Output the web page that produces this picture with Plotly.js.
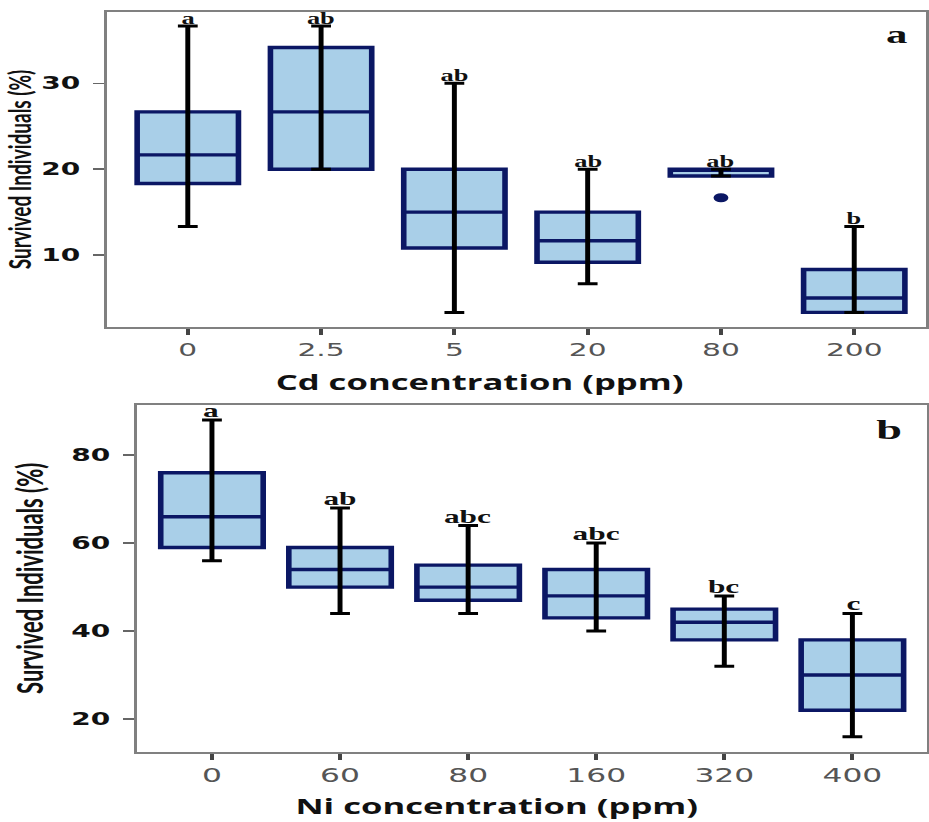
<!DOCTYPE html>
<html>
<head>
<meta charset="utf-8">
<script src="https://cdn.plot.ly/plotly-3.0.1.min.js"></script>
<style>
  html, body { margin: 0; padding: 0; background: #ffffff; overflow: hidden; }
  #chart { width: 563px; height: 822px; transform: scaleX(1.6501); transform-origin: 0 0; }
</style>
</head>
<body>
<div id="chart"></div>
<script>
// ---------- Panel a: Cd ----------
var cdLabels  = ['0', '2.5', '5', '20', '80', '200'];
var cdMin     = [13.33, 20.00, 3.33, 6.67, 19.20, 3.33];
var cdQ1      = [18.33, 20.00, 10.83, 9.17, 19.20, 3.33];
var cdMedian  = [21.67, 26.67, 15.00, 11.67, 20.00, 5.00];
var cdQ3      = [26.67, 34.17, 20.00, 15.00, 20.00, 8.33];
var cdMax     = [36.67, 36.67, 30.00, 20.00, 20.00, 13.33];
var cdLetters = ['a', 'ab', 'ab', 'ab', 'ab', 'b'];
var cdOutlierX = ['80'];
var cdOutlierY = [16.67];

// ---------- Panel b: Ni ----------
var niLabels  = ['0', '60', '80', '160', '320', '400'];
var niMin     = [56, 44, 44, 40, 32, 16];
var niQ1      = [59, 50, 47, 43, 38, 22];
var niMedian  = [66, 54, 50, 48, 42, 30];
var niQ3      = [76, 59, 55, 54, 45, 38];
var niMax     = [88, 68, 64, 60, 48, 44];
var niLetters = ['a', 'ab', 'abc', 'abc', 'bc', 'c'];

var panelLabels = ['a', 'b'];
var yTitle = 'Survived Individuals (%)';
var xTitles = ['Cd concentration (ppm)', 'Ni concentration (ppm)'];

var NAVY = '#0b1764';
var FILL = '#a9cfe8';

function boxTrace(x, q1, med, q3, w, xa, ya) {
  return {
    type: 'box', x: x, q1: q1, median: med, q3: q3,
    lowerfence: q1, upperfence: q3,
    width: w, whiskerwidth: 0, boxpoints: false,
    fillcolor: FILL, line: { color: NAVY, width: 3.4 },
    xaxis: xa, yaxis: ya, showlegend: false, hoverinfo: 'skip'
  };
}
function whiskerTrace(x, mn, mx, xa, ya) {
  return {
    type: 'scatter', mode: 'markers', x: x, y: mx,
    marker: { size: 1, color: 'rgba(0,0,0,0)' },
    error_y: {
      type: 'data', symmetric: false,
      array: mx.map(function () { return 0; }),
      arrayminus: mx.map(function (v, i) { return v - mn[i]; }),
      color: '#000000', thickness: 3, width: 6
    },
    xaxis: xa, yaxis: ya, showlegend: false, hoverinfo: 'skip'
  };
}

var data = [
  boxTrace(cdLabels, cdQ1, cdMedian, cdQ3, 0.76, 'x', 'y'),
  boxTrace(niLabels, niQ1, niMedian, niQ3, 0.80, 'x2', 'y2'),
  whiskerTrace(cdLabels, cdMin, cdMax, 'x', 'y'),
  whiskerTrace(niLabels, niMin, niMax, 'x2', 'y2'),
  {
    type: 'scatter', mode: 'markers', x: cdOutlierX, y: cdOutlierY,
    marker: { color: NAVY, size: 9 },
    xaxis: 'x', yaxis: 'y', showlegend: false, hoverinfo: 'skip'
  }
];

var annotations = [];
function addLetters(labels, mx, letters, xr, yr, size) {
  for (var i = 0; i < labels.length; i++) {
    annotations.push({
      x: i, y: mx[i], xref: xr, yref: yr,   // category index of labels[i]
      text: '<b>' + letters[i] + '</b>', showarrow: false,
      yanchor: 'bottom', yshift: -3,
      font: { family: 'Liberation Serif', size: size, color: '#111111' }
    });
  }
}
addLetters(cdLabels, cdMax, cdLetters, 'x', 'y', 16);
addLetters(niLabels, niMax, niLetters, 'x2', 'y2', 19);

annotations.push({
  xref: 'paper', yref: 'paper', x: 0.9806, y: 0.9586, xanchor: 'right', yanchor: 'middle',
  text: '<b>' + panelLabels[0] + '</b>', showarrow: false,
  font: { family: 'Liberation Serif', size: 26, color: '#111111' }
});
annotations.push({
  xref: 'paper', yref: 'paper', x: 0.976, y: 0.4769, xanchor: 'right', yanchor: 'middle',
  text: '<b>' + panelLabels[1] + '</b>', showarrow: false,
  font: { family: 'Liberation Serif', size: 28, color: '#111111' }
});
annotations.push({
  xref: 'paper', yref: 'paper', x: 0.5167, y: 0.5350, xanchor: 'center', yanchor: 'middle',
  text: '<b>' + xTitles[0] + '</b>', showarrow: false,
  font: { family: 'Open Sans', size: 21, color: '#111111' }
});
annotations.push({
  xref: 'paper', yref: 'paper', x: 0.534, y: 0.0, xanchor: 'center', yanchor: 'bottom',
  text: '<b>' + xTitles[1] + '</b>', showarrow: false,
  font: { family: 'Open Sans', size: 21, color: '#111111' }
});

function xAxis(domain, range, anchor, fs) {
  return {
    domain: domain, range: range, type: 'category', anchor: anchor,
    showline: true, mirror: true, linecolor: '#808080', linewidth: 1.8,
    ticks: 'outside', ticklen: 6, tickwidth: 2.5, tickcolor: '#444444',
    tickfont: { family: 'DejaVu Sans', size: fs, color: '#555555' },
    showgrid: false, zeroline: false, fixedrange: true
  };
}
function yAxis(domain, range, dtick, anchor, tfs, so) {
  return {
    domain: domain, range: range, dtick: dtick, tick0: 0, anchor: anchor,
    showline: true, mirror: true, linecolor: '#808080', linewidth: 1.8,
    ticks: 'outside', ticklen: 7, tickwidth: 1.5, tickcolor: '#666666',
    ticklabelstandoff: 4,
    tickfont: { family: 'DejaVu Sans', size: 17, color: '#111111', weight: 'bold' },
    title: { text: yTitle, standoff: so, font: { family: 'Lato', size: tfs, color: '#111111', weight: 'bold' } },
    showgrid: false, zeroline: false, fixedrange: true
  };
}

var layout = {
  width: 563, height: 822,
  margin: { l: 0, r: 0, t: 0, b: 0 },
  paper_bgcolor: '#ffffff', plot_bgcolor: '#ffffff',
  showlegend: false,
  xaxis: xAxis([0.1152, 0.997], [-0.606, 5.54], 'y', 18),
  yaxis: yAxis([0.6022, 0.9854], [1.63, 38.3], 10, 'x', 19, 8),
  xaxis2: xAxis([0.1475, 0.9975], [-0.585, 5.58], 'y2', 19),
  yaxis2: yAxis([0.0855, 0.5073], [12.57, 91.4], 20, 'x2', 22, 10),
  annotations: annotations
};

Plotly.newPlot('chart', data, layout, { displayModeBar: false, staticPlot: true });
</script>
</body>
</html>
